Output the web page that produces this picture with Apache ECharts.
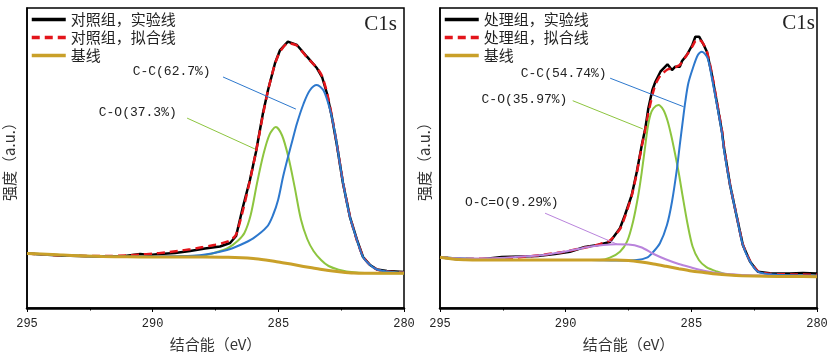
<!DOCTYPE html>
<html>
<head>
<meta charset="utf-8">
<script src="https://cdn.jsdelivr.net/npm/echarts@6/dist/echarts.min.js"></script>
<style>html,body{margin:0;padding:0;background:#fff}#c{width:832px;height:357px}</style>
</head>
<body>
<div id="c"></div>
<script>
// ---------- data: [binding energy (eV), intensity (a.u.)] ----------
const ctrlExp = [[295,18.17],[293.69,17.5],[292.1,17.17],[291.1,17.33],[290.5,18.0],[290.11,17.67],[289.71,18.0],[289.11,18.33],[288.51,19.0],[287.92,19.83],[287.32,20.5],[286.92,21.67],[286.68,24.0],[286.41,33.67],[286.13,42.67],[285.89,52.0],[285.61,65.0],[285.41,72.67],[285.13,81.67],[284.93,86.0],[284.62,88.77],[284.26,87.67],[283.86,83.77],[283.46,79.9],[283.26,77.0],[283.07,71.67],[282.87,63.67],[282.67,54.33],[282.43,41.67],[282.15,30.33],[281.87,22.67],[281.63,17.0],[281.35,14.33],[281.07,12.83],[280.68,12.33],[280,12.0]];
const ctrlFit = [[295,18.17],[294,17.7],[293,17.4],[292,17.3],[291,17.5],[290.5,17.8],[290,18.1],[289.5,18.5],[289,19.0],[288.5,19.6],[288,20.3],[287.5,21.1],[287.2,21.7],[286.9,22.6],[286.68,24.5],[286.41,32.5],[286.13,42.5],[285.89,52],[285.61,64.5],[285.41,72.5],[285.13,81.5],[284.93,85.5],[284.62,88.3],[284.26,87.5],[283.86,83.5],[283.46,80.0],[283.26,77.3],[283.07,72],[282.87,64],[282.67,54.5],[282.43,42],[282.15,30.5],[281.87,22.5],[281.63,17.2],[281.35,14.3],[281.07,12.8],[280.68,12.2],[280,11.8]];
const ctrlCC = [[295,18.17],[292.1,17.17],[290.11,17.2],[288.12,17.6],[287.04,19.33],[286.52,21.0],[286.0,23.23],[285.45,27.1],[285.21,31.0],[285.01,36.0],[284.81,43.8],[284.61,50.5],[284.42,56.5],[284.26,61.5],[284.0,68.0],[283.75,72.5],[283.47,74.3],[283.2,72.5],[282.94,66],[282.74,58],[282.55,48],[282.43,42],[282.15,30.3],[281.87,22.67],[281.63,17.0],[281.35,14.33],[281.07,12.83],[280.68,12.2],[280,11.8]];
const ctrlCO = [[295,18.17],[292,17.17],[290,17.0],[289,17.1],[288,17.5],[287.5,18.5],[287.0,20.0],[286.6,22.5],[286.35,25.0],[286.1,31.0],[285.85,41.5],[285.6,51.0],[285.35,57.8],[285.1,60.33],[284.85,57.5],[284.6,50.3],[284.35,40.3],[284.1,29.5],[283.85,23.0],[283.6,19.0],[283.3,16.0],[283.0,14.0],[282.6,12.8],[282.0,11.9],[281,11.6],[280,11.6]];
const ctrlBase = [[295,18.17],[294,17.83],[293,17.4],[292,17.17],[291,17.07],[290,17.0],[289,17.0],[288,17.0],[287,16.9],[286,16.5],[285.5,16.0],[285,15.33],[284.5,14.67],[284,13.83],[283.5,13.17],[283,12.5],[282.5,12.0],[282,11.67],[281,11.57],[280,11.57]];

const treatExp = [[295,16.9],[294.3,16.23],[293.42,16.17],[292.54,17.0],[291.79,17.17],[291.11,17.33],[290.43,18.0],[289.83,18.77],[289.24,20.33],[288.72,21.0],[288.24,22.0],[287.84,26.57],[287.64,31.0],[287.37,37.67],[287.17,45.43],[286.97,54.33],[286.83,59.9],[286.71,66.57],[286.55,72.67],[286.43,75.43],[286.23,78.77],[285.95,81.23],[285.77,79.33],[285.64,80.43],[285.46,80.43],[285.37,82.33],[285.18,84.33],[284.96,87.67],[284.84,90.43],[284.69,90.43],[284.54,88.23],[284.38,85.43],[284.18,77.67],[283.99,68.77],[283.78,58.77],[283.7,53.33],[283.46,41.0],[283.18,29.9],[282.95,21.0],[282.66,15.43],[282.35,12.1],[281.88,11.57],[281.08,11.5],[280.56,11.67],[280,11.5]];
const treatFit = [[295,16.9],[294,16.4],[293,16.4],[292,16.8],[291.5,17.2],[291,17.6],[290.5,18.2],[290,18.8],[289.5,19.7],[289,20.5],[288.72,21.1],[288.24,22.5],[287.84,26.3],[287.64,30.5],[287.37,37.5],[287.17,45],[286.97,54],[286.83,59.5],[286.71,65],[286.55,71],[286.43,74.5],[286.23,77.5],[285.95,79.5],[285.77,79.8],[285.64,80.2],[285.46,81],[285.37,82],[285.18,84.3],[284.96,87.2],[284.84,89],[284.69,89.5],[284.54,88.3],[284.38,85.5],[284.18,78],[283.99,69],[283.78,59],[283.7,53.5],[283.46,41.2],[283.18,30],[282.95,21.2],[282.66,15.6],[282.35,12.3],[281.88,11.4],[281,11.2],[280,11.1]];
const treatCC = [[295,16.9],[292,16.0],[289,16.0],[288.0,15.83],[287.17,16.0],[286.77,16.77],[286.53,18.57],[286.25,21.57],[285.97,27.67],[285.77,35.43],[285.57,46.57],[285.46,54.33],[285.36,61.0],[285.24,68.77],[285.12,74.9],[284.94,79.9],[284.74,84.33],[284.58,85.43],[284.35,83.23],[284.18,76.57],[283.98,67.67],[283.78,58.23],[283.7,52.67],[283.46,41.0],[283.18,29.9],[282.95,21.0],[282.66,15.43],[282.35,12.1],[281.88,11.23],[281,10.9],[280,10.77]];
const treatCO = [[295,16.9],[292,16.0],[288.64,16.0],[288.24,16.77],[287.84,18.77],[287.56,22.1],[287.32,28.77],[287.11,37.67],[286.97,45.43],[286.83,54.33],[286.74,59.9],[286.63,64.33],[286.51,66.57],[286.31,67.67],[286.11,66.0],[285.95,62.5],[285.8,57.5],[285.65,51.5],[285.5,45.0],[285.35,37.5],[285.15,28.0],[284.95,20.5],[284.7,16.0],[284.4,13.6],[284.0,12.2],[283.5,11.1],[282,10.6],[280,10.45]];
const treatOCO = [[295,16.9],[294,16.5],[293,16.57],[292,17.0],[291,17.57],[290.5,18.17],[290,18.83],[289.5,19.67],[289,20.5],[288.5,21.0],[288,21.23],[287.5,21.17],[287,20.23],[286.5,18.0],[286,16.17],[285.5,14.67],[285,13.5],[284.5,12.43],[284,11.67],[283.5,11.33],[283,11.0],[282,10.77],[281,10.57],[280,10.43]];
const treatBase = [[295,16.9],[294.4,16.23],[294,16.1],[293,16.0],[292,16.0],[291,16.0],[290,16.0],[289,16.0],[288,16.0],[287.5,15.83],[287,15.33],[286.5,14.67],[286,13.9],[285.5,13.1],[285,12.33],[284.5,11.83],[284,11.33],[283.5,11.0],[283,10.77],[282,10.57],[281,10.5],[280,10.43]];

const xTicks = [295, 290, 285, 280];
const ctrlNames = ['对照组，实验线', '对照组，拟合线', '基线'];
const treatNames = ['处理组，实验线', '处理组，拟合线', '基线'];
const ctrlPeakLabels = ['C-C(62.7%)', 'C-O(37.3%)'];
const treatPeakLabels = ['C-C(54.74%)', 'C-O(35.97%)', 'O-C=O(9.29%)'];

// ---------- annotation placement (data space) ----------
const ann = {
  ctrl: [
    {text: ctrlPeakLabels[0], at: [287.68, 78.8], line: [[287.2, 77.0], [284.3, 66.3]]},
    {text: ctrlPeakLabels[1], at: [289.03, 65.0], line: [[288.63, 63.3], [285.93, 53.0]]}
  ],
  treat: [
    {text: treatPeakLabels[0], at: [288.36, 78.0], line: [[288.23, 76.6], [285.31, 67.1]]},
    {text: treatPeakLabels[1], at: [289.92, 69.3], line: [[289.72, 69.1], [286.93, 59.7]]},
    {text: treatPeakLabels[2], at: [290.27, 34.9], line: [[290.82, 31.6], [287.96, 21.3]]}
  ]
};

const C = {exp:'#000000', fit:'#E3151B', cc:'#2D78CD', co:'#8DC53F', oco:'#B983DC', base:'#C9A029'};
const labelFont = {fontFamily:'Liberation Mono', fontSize:13, color:'#222'};

function compSeries(name, data, color, idx, a) {
  return {
    name, type:'line', data, xAxisIndex:idx, yAxisIndex:idx, symbol:'none', smooth:0.3,
    lineStyle:{color, width:2}, itemStyle:{color}, z:3,
    markLine:{silent:true, symbol:'none', animation:false,
      lineStyle:{color, width:1, type:'solid'}, label:{show:false},
      data:[[{coord:a.line[0]},{coord:a.line[1]}]]},
    markPoint:{silent:true, symbolSize:1, animation:false, itemStyle:{color:'rgba(0,0,0,0)'},
      label:{show:true, position:'left', distance:0, formatter:a.text, ...labelFont},
      data:[{coord:a.at}]}
  };
}

function panelSeries(idx, names, exp, fit, comps, base) {
  const s = [
    {name:names[0], type:'line', data:exp, xAxisIndex:idx, yAxisIndex:idx, symbol:'none',
     lineStyle:{color:C.exp, width:2.5}, itemStyle:{color:C.exp}, z:2},
    {name:names[1], type:'line', data:fit, xAxisIndex:idx, yAxisIndex:idx, symbol:'none', smooth:0.2,
     lineStyle:{color:C.fit, width:2.5, type:[8,5]}, itemStyle:{color:C.fit}, z:2}
  ];
  comps.forEach(c => s.push(c));
  s.push({name:names[2], type:'line', data:base, xAxisIndex:idx, yAxisIndex:idx, symbol:'none', smooth:0.3,
     lineStyle:{color:C.base, width:3}, itemStyle:{color:C.base}, z:4});
  return s;
}

const axisX = (idx) => ({
  type:'value', gridIndex:idx, min:280, max:295, interval:5, inverse:true,
  name:'结合能（eV）', nameLocation:'middle', nameGap:29,
  nameTextStyle:{fontFamily:'Noto Sans CJK SC', fontSize:15, color:'#333'},
  axisLine:{show:true, onZero:false, lineStyle:{color:'#000', width:2.5}},
  axisTick:{show:true, inside:false, length:4, lineStyle:{color:'#000', width:1}},
  minorTick:{show:true, splitNumber:2, length:2.5, lineStyle:{color:'#000', width:1}},
  axisLabel:{fontFamily:'Liberation Mono', fontSize:12, color:'#222', margin:10,
    formatter:(v)=> xTicks.includes(v) ? String(v) : ''},
  splitLine:{show:false}, minorSplitLine:{show:false}
});
const axisY = (idx, gap) => ({
  type:'value', gridIndex:idx, min:0, max:100,
  name:'强度（a.u.）', nameLocation:'middle', nameGap:gap,
  nameTextStyle:{fontFamily:'Noto Sans CJK SC', fontSize:15, color:'#333'},
  axisLine:{show:true, onZero:false, lineStyle:{color:'#000', width:1.5}},
  axisTick:{show:false}, axisLabel:{show:false}, splitLine:{show:false}
});

const legendBase = {orient:'vertical', top:12, padding:0, itemWidth:34, itemHeight:14, itemGap:3,
  itemStyle:{opacity:0, color:'transparent', borderWidth:0},
  lineStyle:{width:3.5},
  textStyle:{fontFamily:'Noto Sans CJK SC', fontSize:15, color:'#222'}, selectedMode:false};

const chart = echarts.init(document.getElementById('c'), null, {renderer:'canvas'});
chart.setOption({
  animation:false,
  backgroundColor:'#fff',
  grid:[
    {left:27, top:8, width:377, height:300, show:true, borderColor:'#000', borderWidth:1.5, backgroundColor:'transparent'},
    {left:440, top:8, width:377, height:300, show:true, borderColor:'#000', borderWidth:1.5, backgroundColor:'transparent'}
  ],
  xAxis:[axisX(0), axisX(1)],
  yAxis:[axisY(0, 10), axisY(1, 8)],
  legend:[
    {...legendBase, left:30, data:ctrlNames},
    {...legendBase, left:443, data:treatNames}
  ],
  graphic:[
    {type:'text', right:832-397, top:14, style:{text:'C1s', fontFamily:'Liberation Serif', fontSize:21, fill:'#222'}},
    {type:'text', right:832-815, top:13, style:{text:'C1s', fontFamily:'Liberation Serif', fontSize:21, fill:'#222'}}
  ],
  series:[
    ...panelSeries(0, ctrlNames, ctrlExp, ctrlFit, [
      compSeries('C-O', ctrlCO, C.co, 0, ann.ctrl[1]),
      compSeries('C-C', ctrlCC, C.cc, 0, ann.ctrl[0])
    ], ctrlBase),
    ...panelSeries(1, treatNames, treatExp, treatFit, [
      compSeries('C-O', treatCO, C.co, 1, ann.treat[1]),
      compSeries('C-C', treatCC, C.cc, 1, ann.treat[0]),
      compSeries('O-C=O', treatOCO, C.oco, 1, ann.treat[2])
    ], treatBase)
  ]
});
</script>
</body>
</html>
